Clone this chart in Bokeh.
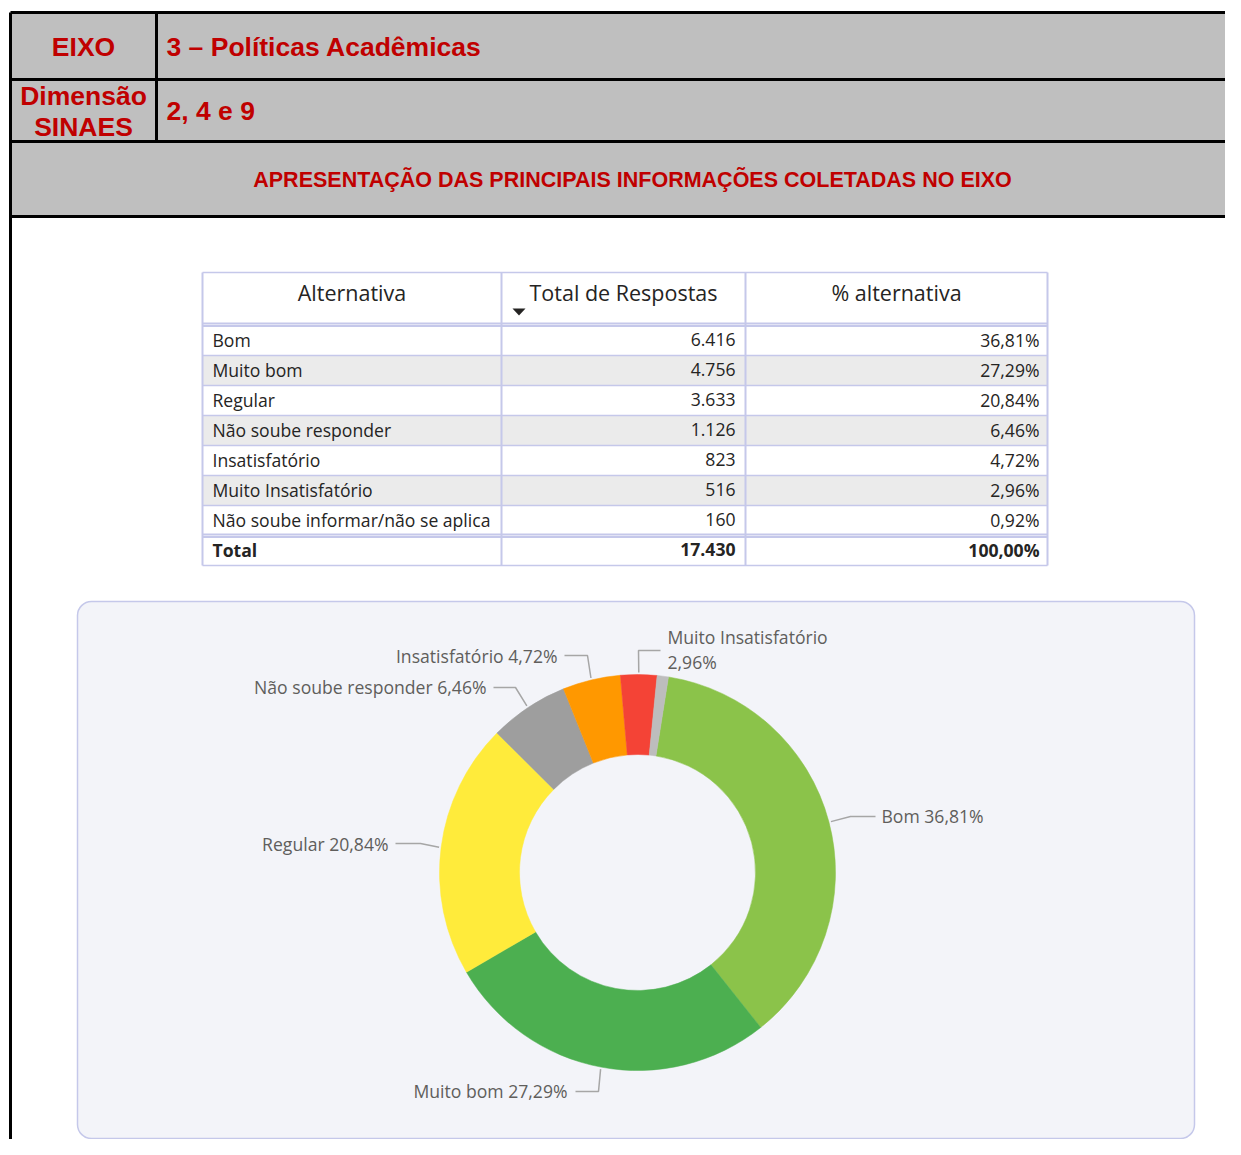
import numpy as np
from bokeh.plotting import figure
from bokeh.models import Range1d
from bokeh.embed import file_html
from bokeh.resources import INLINE
from bokeh.core.properties import value

# ---------------- data ----------------
categories = ["Bom", "Muito bom", "Regular", "Não soube responder", "Insatisfatório",
              "Muito Insatisfatório", "Não soube informar/não se aplica"]
responses = [6416, 4756, 3633, 1126, 823, 516, 160]
percents = [36.81, 27.29, 20.84, 6.46, 4.72, 2.96, 0.92]
total_responses = 17430
total_percent = 100.00
slice_colors = ["#8BC34A", "#4CAF50", "#FFEB3B", "#9E9E9E", "#FF9800", "#F44336", "#BDBDBD"]

header_rows = [("EIXO", "3 – Políticas Acadêmicas"), ("Dimensão\nSINAES", "2, 4 e 9")]
section_title = "APRESENTAÇÃO DAS PRINCIPAIS INFORMAÇÕES COLETADAS NO EIXO"
table_columns = ["Alternativa", "Total de Respostas", "% alternativa"]


def fmt_int(n):
    return f"{n:,}".replace(",", ".")


def fmt_pct(v):
    return f"{v:.2f}".replace(".", ",") + "%"


# ---------------- figure ----------------
W, H = 1225, 1139
p = figure(width=W, height=H, x_range=Range1d(0, W), y_range=Range1d(-H, 0),
           output_backend="svg", toolbar_location=None, x_axis_location=None,
           y_axis_location=None, min_border=0, outline_line_color=None)
p.grid.visible = False
p.background_fill_color = "#FFFFFF"
p.border_fill_color = "#FFFFFF"

RED = "#C00000"
HF = value("Liberation Sans")
SF = value("Open Sans")

# ---------------- header block ----------------
p.quad(left=10, right=1260, top=-12, bottom=-216, fill_color="#BFBFBF", line_color=None)
p.segment(x0=[10, 10, 10, 10], x1=[1260] * 4, y0=[-12, -79, -141, -216], y1=[-12, -79, -141, -216],
          line_color="black", line_width=3)
p.segment(x0=[10, 156], x1=[10, 156], y0=[-12, -12], y1=[-1170, -141], line_color="black", line_width=3)

p.text(x=[83], y=[-46], text=[header_rows[0][0]], text_align="center", text_baseline="middle",
       text_font=HF, text_font_style="bold", text_font_size="26.5px", text_color=RED)
p.text(x=[166], y=[-46], text=[header_rows[0][1]], text_align="left", text_baseline="middle",
       text_font=HF, text_font_style="bold", text_font_size="26.5px", text_color=RED)
d1, d2 = header_rows[1][0].split("\n")
p.text(x=[83, 83], y=[-95, -126], text=[d1, d2], text_align="center", text_baseline="middle",
       text_font=HF, text_font_style="bold", text_font_size="26.5px", text_color=RED)
p.text(x=[166], y=[-110], text=[header_rows[1][1]], text_align="left", text_baseline="middle",
       text_font=HF, text_font_style="bold", text_font_size="26.5px", text_color=RED)
p.text(x=[632], y=[-179], text=[section_title], text_align="center", text_baseline="middle",
       text_font=HF, text_font_style="bold", text_font_size="21.5px", text_color=RED)

# ---------------- table ----------------
TBL = "#C5C8EA"
TXT = "#252423"
col_x = [202, 501, 745, 1047]
head_top, head_bot = 272, 323
row_top0, row_h = 325, 30
n = len(categories)
row_tops = [row_top0 + i * row_h for i in range(n + 1)]

p.quad(left=col_x[0], right=col_x[-1], top=-head_top, bottom=-(row_tops[-1] + row_h),
       fill_color="white", line_color=None)
for i in range(n):
    if i % 2 == 1:
        p.quad(left=col_x[0], right=col_x[-1], top=-row_tops[i], bottom=-(row_tops[i] + row_h),
               fill_color="#EBEBEB", line_color=None)

hy = [head_top] + [row_tops[i] for i in range(1, n)] + [row_tops[-1] + row_h]
p.segment(x0=[col_x[0]] * len(hy), x1=[col_x[-1]] * len(hy), y0=[-y for y in hy], y1=[-y for y in hy],
          line_color=TBL, line_width=1.5)
p.segment(x0=[col_x[0]] * 2, x1=[col_x[-1]] * 2, y0=[-head_bot, -(head_bot + 2.5)],
          y1=[-head_bot, -(head_bot + 2.5)], line_color=TBL, line_width=2)
p.segment(x0=[col_x[0]] * 2, x1=[col_x[-1]] * 2, y0=[-(row_tops[-1] - 1), -(row_tops[-1] + 1.5)],
          y1=[-(row_tops[-1] - 1), -(row_tops[-1] + 1.5)], line_color=TBL, line_width=2)
p.segment(x0=col_x, x1=col_x, y0=[-head_top] * 4, y1=[-(row_tops[-1] + row_h)] * 4,
          line_color=TBL, line_width=2)

hx = [(col_x[0] + col_x[1]) / 2, 623, (col_x[2] + col_x[3]) / 2]
p.text(x=hx, y=[-292] * 3, text=table_columns, text_align="center", text_baseline="middle",
       text_font=SF, text_font_size="21.5px", text_color=TXT)
p.patch(x=[512, 525, 518.5], y=[-308, -308, -315], fill_color="#252423", line_color=None)

ry = [-(t + row_h / 2 - 1) for t in row_tops[:n]]
TS = "17.6px"
p.text(x=[212] * n, y=ry, text=categories, text_align="left", text_baseline="middle",
       text_font=SF, text_font_size=TS, text_color=TXT)
p.text(x=[735] * n, y=ry, text=[fmt_int(v) for v in responses], text_align="right",
       text_baseline="middle", text_font=SF, text_font_size=TS, text_color=TXT)
p.text(x=[1039] * n, y=ry, text=[fmt_pct(v) for v in percents], text_align="right",
       text_baseline="middle", text_font=SF, text_font_size=TS, text_color=TXT)
ty = -(row_tops[-1] + row_h / 2 - 1)
p.text(x=[212], y=[ty], text=["Total"], text_align="left", text_baseline="middle",
       text_font=SF, text_font_style="bold", text_font_size=TS, text_color=TXT)
p.text(x=[735, 1039], y=[ty, ty], text=[fmt_int(total_responses), fmt_pct(total_percent)],
       text_align="right", text_baseline="middle", text_font=SF, text_font_style="bold",
       text_font_size=TS, text_color=TXT)

# ---------------- donut panel ----------------
p.quad(left=77, right=1194, top=-601, bottom=-1138, fill_color="#F3F4F9", line_color=TBL,
       line_width=1.5, border_radius=14)

cx, cy = 637, 872
r_out, r_in = 198, 118
start_offset = 9.0  # degrees clockwise from 12 o'clock
fr = np.array(responses, dtype=float) / sum(responses)
cum = np.concatenate([[0], np.cumsum(fr)])
theta0 = start_offset + 360 * cum[:-1]
theta1 = start_offset + 360 * cum[1:]
start = np.deg2rad(90 - theta0)
end = np.deg2rad(90 - theta1)
p.annular_wedge(x=cx, y=-cy, inner_radius=r_in, outer_radius=r_out, inner_radius_units="screen",
                outer_radius_units="screen", start_angle=start, end_angle=end, direction="clock",
                fill_color=slice_colors, line_color=slice_colors, line_width=0.5)

LBL = "#605E5C"
LEAD = "#A6A6A6"
label_layout = {
    0: dict(elbow=(850, 816), end=(875, 816), tx=881, ty=[815], align="left"),
    1: dict(elbow=(598, 1091), end=(575, 1091), tx=567, ty=[1090], align="right"),
    2: dict(elbow=(420, 843), end=(395, 843), tx=388, ty=[843], align="right"),
    3: dict(elbow=(515, 687), end=(493, 687), tx=486, ty=[686], align="right"),
    4: dict(elbow=(587, 655), end=(564, 655), tx=557, ty=[655], align="right"),
    5: dict(elbow=(638, 650), end=(660, 650), tx=667, ty=[636, 661], align="left"),
}
mid = np.deg2rad((theta0 + theta1) / 2)
for i, lay in label_layout.items():
    sx = cx + (r_out + 2) * np.sin(mid[i])
    sy = cy - (r_out + 2) * np.cos(mid[i])
    ex, ey = lay["elbow"]
    fx, fy = lay["end"]
    p.line(x=[sx, ex, fx], y=[-sy, -ey, -fy], line_color=LEAD, line_width=1.5)
    if len(lay["ty"]) == 1:
        texts = [f"{categories[i]} {fmt_pct(percents[i])}"]
    else:
        texts = [categories[i], fmt_pct(percents[i])]
    p.text(x=[lay["tx"]] * len(texts), y=[-t for t in lay["ty"]], text=texts,
           text_align=lay["align"], text_baseline="middle", text_font=SF,
           text_font_size="17.6px", text_color=LBL)

open("out.html", "w").write(file_html(p, INLINE))
